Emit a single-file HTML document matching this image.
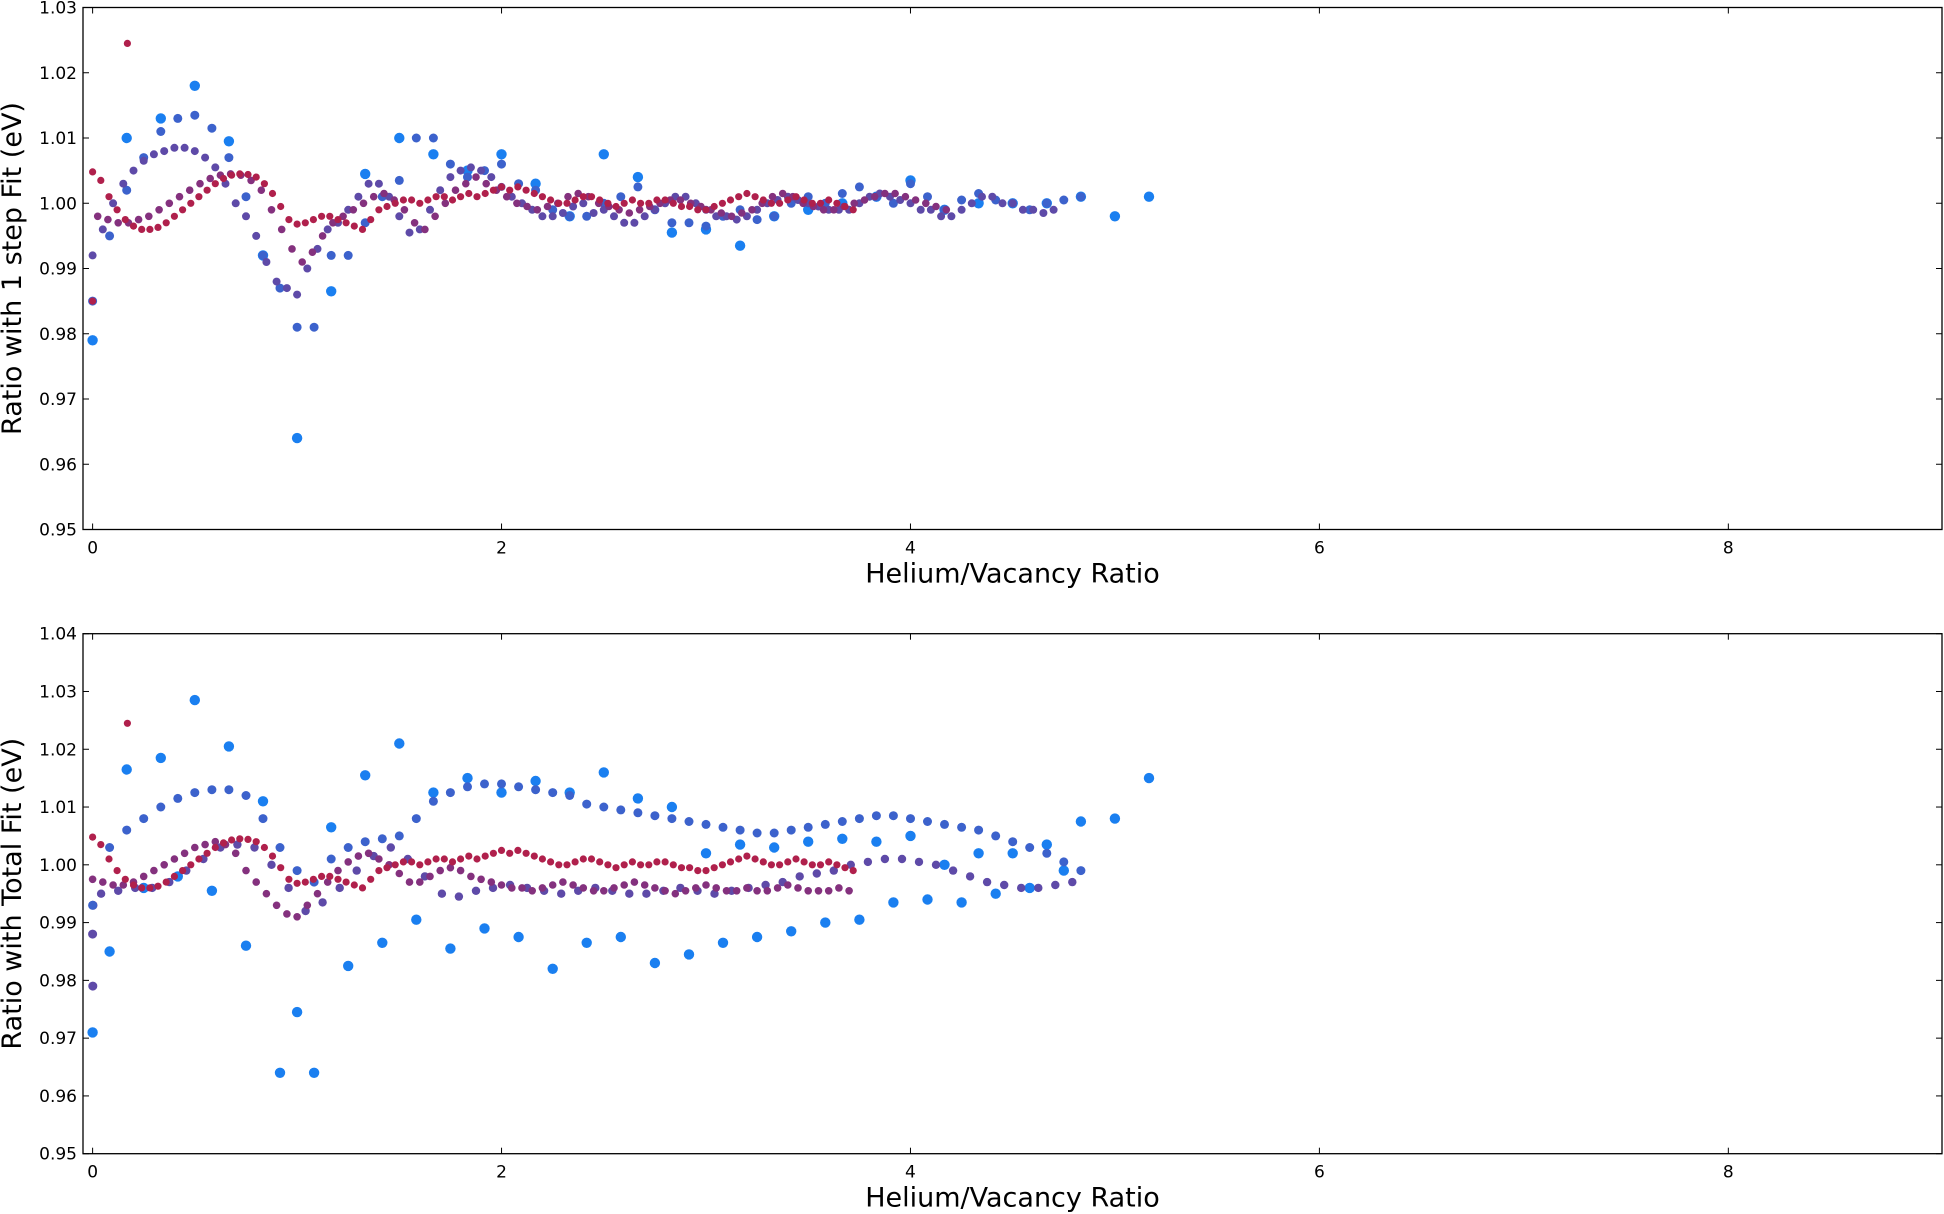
<!DOCTYPE html>
<html><head><meta charset="utf-8">
<style>
html,body{margin:0;padding:0;background:#fff;}
svg{display:block;font-family:"DejaVu Sans","Liberation Sans",sans-serif;}
</style></head>
<body>
<svg id="chart" width="1944" height="1214" viewBox="0 0 1944 1214" xmlns="http://www.w3.org/2000/svg">
<g id="top"></g>
<g id="bot"></g>
</svg>
<script>
const xTicks = [0, 2, 4, 6, 8];
const topYTicks = [0.95, 0.96, 0.97, 0.98, 0.99, 1.00, 1.01, 1.02, 1.03];
const botYTicks = [0.95, 0.96, 0.97, 0.98, 0.99, 1.00, 1.01, 1.02, 1.03, 1.04];

// top panel series (x = start + i/den)
const t1Ys = [0.979,1.010,1.013,1.018,1.0095,0.992,0.964,0.9865,1.0045,1.010,1.0075,1.005,1.0075,1.003,0.998,1.0075,1.004,0.9955,0.996,0.9935,0.998,0.999,1.000,1.001,1.0035,0.999,1.000,1.000,1.000,1.001,0.998,1.001];
const t2Ys = [0.985,0.995,1.002,1.007,1.011,1.013,1.0135,1.0115,1.007,1.001,0.992,0.987,0.981,0.981,0.992,0.992,0.997,1.001,1.0035,1.010,1.010,1.006,1.004,1.005,1.006,1.003,1.002,0.999,0.998,0.998,1.000,1.001,1.0025,0.999,0.997,0.997,0.9965,0.998,0.999,0.9975,0.998,1.000,1.001,1.000,1.0015,1.0025,1.001,1.000,1.003,1.001,0.999,1.0005,1.0015,1.0005,1.000,0.999,1.000,1.0005,1.001];
const t3Ys = [0.992,0.996,1.000,1.003,1.005,1.0065,1.0075,1.008,1.0085,1.0085,1.008,1.007,1.0055,1.003,1.000,0.998,0.995,0.991,0.988,0.987,0.986,0.990,0.993,0.996,0.997,0.999,1.001,1.003,1.003,1.001,0.998,0.9955,0.996,0.999,1.002,1.004,1.005,1.0055,1.005,1.004,1.0025,1.001,1.000,0.999,0.998,0.998,0.9985,0.9995,1.000,0.9985,0.999,0.998,0.997,0.997,0.998,0.999,1.000,1.001,1.001,1.000,0.999,0.998,0.998,0.9975,0.998,0.999,1.000,1.0005,1.001,1.0005,1.000,0.9995,0.999,0.999,0.999,1.000,1.001,1.0015,1.001,1.0005,1.000,0.999,0.999,0.998,0.998,0.999,1.000,1.001,1.001,1.000,1.000,0.999,0.999,0.9985,0.999];
const t4Ys = [0.998,0.9975,0.997,0.997,0.9975,0.998,0.999,1.000,1.001,1.002,1.003,1.0038,1.0043,1.0045,1.0043,1.0035,1.002,0.999,0.996,0.993,0.991,0.9925,0.995,0.997,0.998,0.999,1.000,1.001,1.0015,1.0005,0.999,0.997,0.996,0.998,1.000,1.002,1.003,1.004,1.003,1.002,1.001,1.000,0.9995,0.999,0.9995,1.000,1.001,1.0015,1.001,1.000,0.9995,0.999,0.9985,0.999,0.9995,1.000,1.0005,1.0005,1.000,0.9995,0.999,0.9985,0.998,0.9985,0.999,1.000,1.001,1.0015,1.001,1.000,0.9995,0.999,0.999,0.9995,1.000,1.0005,1.001,1.0015,1.0015,1.001,1.0005,1.000,0.9995,0.999];
const redYs = [1.0048,1.0035,1.001,0.999,0.9975,0.9965,0.996,0.996,0.9963,0.997,0.998,0.999,1.000,1.001,1.002,1.003,1.0038,1.0043,1.0045,1.0044,1.004,1.003,1.0015,0.9995,0.9975,0.9968,0.997,0.9975,0.998,0.998,0.9975,0.997,0.9965,0.996,0.9975,0.999,0.9995,1.000,1.0005,1.0005,1.000,1.0005,1.001,1.001,1.0005,1.001,1.0015,1.001,1.0015,1.002,1.0025,1.002,1.0025,1.002,1.0015,1.001,1.0005,1.000,1.000,1.0005,1.001,1.001,1.0005,1.000,0.9995,1.000,1.0005,1.000,1.000,1.0005,1.0005,1.000,0.9995,0.9995,0.999,0.999,0.9995,1.000,1.0005,1.001,1.0015,1.001,1.0005,1.000,1.000,1.0005,1.001,1.0005,1.000,1.000,1.0005,1.000,0.9995,0.999];

// bottom panel series
const b1Ys = [0.971,1.0165,1.0185,1.0285,1.0205,1.011,0.9745,1.0065,1.0155,1.021,1.0125,1.015,1.0125,1.0145,1.0125,1.016,1.0115,1.010,1.002,1.0035,1.003,1.004,1.0045,1.004,1.005,1.000,1.002,1.002,1.0035,1.0075,1.008,1.015];
const b2Ys = [0.985,0.996,0.998,0.9955,0.986,0.964,0.964,0.9825,0.9865,0.9905,0.9855,0.989,0.9875,0.982,0.9865,0.9875,0.983,0.9845,0.9865,0.9875,0.9885,0.990,0.9905,0.9935,0.994,0.9935,0.995,0.996,0.999];
const b3Ys = [0.993,1.003,1.006,1.008,1.010,1.0115,1.0125,1.013,1.013,1.012,1.008,1.003,0.999,0.997,1.001,1.003,1.004,1.0045,1.005,1.008,1.011,1.0125,1.0135,1.014,1.014,1.0135,1.013,1.0125,1.012,1.0105,1.010,1.0095,1.009,1.0085,1.008,1.0075,1.007,1.0065,1.006,1.0055,1.0055,1.006,1.0065,1.007,1.0075,1.008,1.0085,1.0085,1.008,1.0075,1.007,1.0065,1.006,1.005,1.004,1.003,1.002,1.0005,0.999];
const b4Ys = [0.995,0.9955,0.996,0.996,0.997,0.999,1.001,1.003,1.0035,1.003,1.000,0.996,0.992,0.9935,0.996,0.999,1.0015,1.003,1.001,0.998,0.995,0.9945,0.9955,0.996,0.9965,0.996,0.9955,0.995,0.9955,0.996,0.9955,0.995,0.995,0.9955,0.996,0.9955,0.995,0.9955,0.996,0.9965,0.997,0.998,0.9985,0.999,1.000,1.0005,1.001,1.001,1.0005,1.000,0.999,0.998,0.997,0.9965,0.996,0.996,0.9965,0.997];
const b6Ys = [0.9975,0.997,0.9965,0.9965,0.997,0.998,0.999,1.000,1.001,1.002,1.003,1.0035,1.004,1.0035,1.002,0.999,0.997,0.995,0.993,0.9915,0.991,0.993,0.995,0.997,0.999,1.0005,1.0015,1.002,1.001,1.000,0.9985,0.997,0.997,0.998,0.999,0.9995,0.999,0.998,0.9975,0.997,0.9965,0.996,0.996,0.9955,0.996,0.9965,0.997,0.9965,0.996,0.9955,0.9955,0.996,0.9965,0.997,0.9965,0.996,0.9955,0.995,0.9955,0.996,0.9965,0.996,0.9955,0.9955,0.996,0.9955,0.9955,0.996,0.9965,0.996,0.9955,0.9955,0.9955,0.996,0.9955];
const b0Points = [0.988, 0.979, 0.993];

const NS = 'http://www.w3.org/2000/svg';
const X0 = 83, X1 = 1942;
const xMin = -0.047, xMax = 9.045;
function xs(v){ return X0 + (v - xMin) / (xMax - xMin) * (X1 - X0); }

function panel(g, top, bottom, yMin, yMax, yTicks, ylabel, seriesList, prefix){
  const ys = v => bottom - (v - yMin) / (yMax - yMin) * (bottom - top);
  const clip = document.createElementNS(NS,'clipPath');
  clip.setAttribute('id', prefix+'-clip');
  const cr = document.createElementNS(NS,'rect');
  cr.setAttribute('x', X0); cr.setAttribute('y', top); cr.setAttribute('width', X1-X0); cr.setAttribute('height', bottom-top);
  clip.appendChild(cr); g.appendChild(clip);
  const pts = document.createElementNS(NS,'g');
  pts.setAttribute('clip-path','url(#'+prefix+'-clip)');
  
  
  g.appendChild(pts);
  seriesList.forEach(s => {
    const sg = document.createElementNS(NS,'g');
    
    
    sg.setAttribute('fill', s.color);
    s.ys.forEach((v,i) => {
      const x = s.xs ? s.xs[i] : s.start + i / s.den;
      const c = document.createElementNS(NS,'circle');
      
      
      c.setAttribute('cx', xs(x).toFixed(1));
      c.setAttribute('cy', ys(v).toFixed(1));
      c.setAttribute('r', s.r);
      sg.appendChild(c);
    });
    pts.appendChild(sg);
  });
  const frame = document.createElementNS(NS,'rect');
  
  
  frame.setAttribute('x', X0); frame.setAttribute('y', top);
  frame.setAttribute('width', X1-X0); frame.setAttribute('height', bottom-top);
  frame.setAttribute('fill','none'); frame.setAttribute('stroke','#000'); frame.setAttribute('stroke-width','1.3');
  g.appendChild(frame);
  xTicks.forEach(t => {
    const x = xs(t);
    [[bottom, bottom-6],[top, top+6]].forEach(p => {
      const l = document.createElementNS(NS,'line');
      
      
      l.setAttribute('x1',x); l.setAttribute('x2',x); l.setAttribute('y1',p[0]); l.setAttribute('y2',p[1]);
      l.setAttribute('stroke','#000'); l.setAttribute('stroke-width','1');
      g.appendChild(l);
    });
    const tx = document.createElementNS(NS,'text');
    
    
    tx.setAttribute('x',x); tx.setAttribute('y',bottom+24);
    tx.setAttribute('text-anchor','middle'); tx.setAttribute('font-size','17');
    tx.textContent = t;
    g.appendChild(tx);
  });
  yTicks.forEach(t => {
    const y = ys(t);
    [[X0, X0+6],[X1, X1-6]].forEach(p => {
      const l = document.createElementNS(NS,'line');
      
      
      l.setAttribute('x1',p[0]); l.setAttribute('x2',p[1]); l.setAttribute('y1',y); l.setAttribute('y2',y);
      l.setAttribute('stroke','#000'); l.setAttribute('stroke-width','1');
      g.appendChild(l);
    });
    const tx = document.createElementNS(NS,'text');
    
    
    tx.setAttribute('x',X0-6); tx.setAttribute('y',y+6);
    tx.setAttribute('text-anchor','end'); tx.setAttribute('font-size','17');
    tx.textContent = t.toFixed(2);
    g.appendChild(tx);
  });
  const xl = document.createElementNS(NS,'text');
  
  
  xl.setAttribute('x',(X0+X1)/2); xl.setAttribute('y',bottom+53);
  xl.setAttribute('text-anchor','middle'); xl.setAttribute('font-size','27');
  xl.textContent = 'Helium/Vacancy Ratio';
  g.appendChild(xl);
  const yl = document.createElementNS(NS,'text');
  
  
  yl.setAttribute('transform','translate(21,'+((top+bottom)/2)+') rotate(-90)');
  yl.setAttribute('text-anchor','middle'); yl.setAttribute('font-size','27');
  yl.textContent = ylabel;
  g.appendChild(yl);
}

const BLUE='#1a7ff0', BV='#3c62cc', VIO='#5e4aa8', RV='#84317e', RED='#b0204c';
panel(document.getElementById('top'), 7.5, 529.5, 0.95, 1.03, topYTicks, 'Ratio with 1 step Fit (eV)', [
  {name:'series-v6', ys:t1Ys, start:0, den:6, color:BLUE, r:5.2},
  {name:'series-v12', ys:t2Ys, start:0, den:12, color:BV, r:4.5},
  {name:'series-v20', ys:t3Ys, start:0, den:20, color:VIO, r:4},
  {name:'series-v20b', ys:t4Ys, start:0.025, den:20, color:RV, r:3.8},
  {name:'series-v25', ys:redYs, start:0, den:25, color:RED, r:3.6},
  {name:'series-outlier', ys:[0.985,1.0245], xs:[0,0.17], color:RED, r:3.6}
], 'top');
panel(document.getElementById('bot'), 633.7, 1153.7, 0.95, 1.04, botYTicks, 'Ratio with Total Fit (eV)', [
  {name:'series-v6-upper', ys:b1Ys, start:0, den:6, color:BLUE, r:5.2},
  {name:'series-v6-lower', ys:b2Ys, start:1/12, den:6, color:BLUE, r:5.2},
  {name:'series-v0', ys:b0Points, start:0, den:1000, color:VIO, r:4.5},
  {name:'series-v12-upper', ys:b3Ys, start:0, den:12, color:BV, r:4.5},
  {name:'series-v12-lower', ys:b4Ys, start:1/24, den:12, color:VIO, r:4.2},
  {name:'series-v20', ys:b6Ys, start:0, den:20, color:RV, r:3.8},
  {name:'series-v25', ys:redYs, start:0, den:25, color:RED, r:3.6},
  {name:'series-outlier', ys:[1.0245], xs:[0.17], color:RED, r:3.6}
], 'bot');
</script>
</body></html>
